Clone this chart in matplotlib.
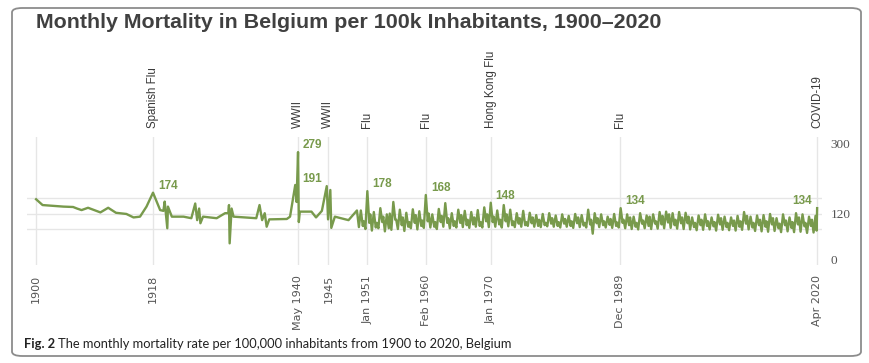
import numpy as np
import matplotlib
matplotlib.use("Agg")
import matplotlib.pyplot as plt
from matplotlib.patches import FancyBboxPatch
import matplotlib.transforms as mtransforms

# early part of the series (sparse points)
early_years = [1900, 1901, 1902.7, 1904.2, 1905.7, 1906.3, 1907, 1908, 1909.9, 1911.1,
               1912.3, 1913.9, 1915, 1916, 1917, 1918, 1919.1, 1919.6, 1919.8, 1920.2,
               1920.3, 1920.9, 1922.7, 1923.9, 1924.5, 1924.8, 1925.1, 1925.3, 1925.7, 1927.8,
               1929.1, 1929.6, 1929.7, 1929.8, 1930.1, 1930.4, 1933.9, 1934.4, 1934.8, 1935.2,
               1935.5, 1935.9, 1938.6, 1939.1, 1939.9, 1940.1, 1940.33, 1940.45, 1940.6, 1942.4,
               1943.1, 1944.0, 1944.75, 1944.95, 1945.3, 1945.45, 1946.0, 1948.1, 1949.4, 1949.7]
early_values = [157, 142, 140, 138, 137, 133, 129, 135, 123, 135,
                122, 119, 110, 112, 138, 174, 129, 127, 151, 82,
                138, 112, 112, 108, 146, 103, 133, 95, 112, 108,
                121, 121, 142, 43, 133, 112, 108, 142, 103, 121,
                86, 105, 106, 112, 194, 150, 279, 98, 125, 125,
                110, 127, 191, 105, 181, 83, 112, 103, 128, 85]

# 1950-2019: four points a year (winter peak, spring dip, summer bump, autumn low)
season_years = list(range(1950, 2020))
jan_peak = [128, 178, 124, 134, 118, 150, 130, 122, 131, 126,
            168, 118, 132, 147, 121, 130, 127, 124, 129, 136,
            148, 128, 142, 130, 121, 127, 122, 116, 119, 121,
            115, 118, 114, 119, 116, 130, 121, 118, 112, 119,
            134, 118, 112, 121, 115, 118, 124, 125, 121, 124,
            122, 110, 115, 118, 110, 117, 112, 110, 114, 124,
            112, 115, 116, 119, 108, 118, 110, 121, 118, 112]
spring_dip = [88, 96, 84, 98, 82, 104, 90, 86, 96, 88,
              100, 86, 98, 96, 88, 96, 90, 92, 88, 100,
              98, 92, 100, 90, 94, 90, 95, 88, 90, 94,
              88, 94, 88, 95, 89, 92, 95, 90, 91, 88,
              96, 90, 86, 94, 88, 94, 92, 97, 90, 95,
              95, 85, 90, 88, 87, 92, 85, 88, 86, 94,
              84, 90, 86, 92, 82, 90, 83, 92, 87, 88]
summer_bump = [100, 118, 96, 112, 120, 104, 110, 98, 116, 102,
               120, 98, 114, 108, 100, 116, 104, 110, 98, 118,
               112, 104, 118, 100, 108, 98, 110, 104, 96, 108,
               98, 106, 100, 110, 96, 104, 108, 100, 106, 97,
               104, 110, 96, 102, 112, 100, 114, 118, 104, 110,
               112, 96, 104, 100, 98, 108, 96, 102, 100, 114,
               96, 104, 100, 108, 94, 102, 98, 110, 96, 104]
autumn_low = [80, 76, 82, 74, 78, 80, 75, 82, 79, 83,
              84, 80, 86, 82, 84, 85, 83, 86, 84, 85,
              86, 84, 87, 85, 86, 88, 86, 85, 87, 86,
              84, 86, 83, 85, 84, 68, 85, 84, 83, 84,
              82, 80, 79, 82, 80, 81, 82, 83, 81, 80,
              79, 77, 78, 79, 76, 78, 77, 76, 78, 79,
              75, 74, 73, 75, 72, 74, 72, 73, 70, 71]
month_offsets = [0.0, 0.3, 0.45, 0.7]

# 2020 up to April
tail_years = [2020.0, 2020.17, 2020.25]
tail_values = [114, 76, 134]

# events
event_pos = [1900, 1918, 1940.33, 1945, 1951, 1960.08, 1970, 1989.92, 2020.25]
event_ticks = ["1900", "1918", "May 1940", "1945", "Jan 1951", "Feb 1960", "Jan 1970", "Dec 1989", "Apr 2020"]
event_names = ["", "Spanish Flu", "WWII", "WWII", "Flu", "Flu", "Hong Kong Flu", "Flu", "COVID-19"]

# peak labels
peak_x = [1918, 1940.33, 1944.75, 1951, 1960.08, 1970, 1989.92, 2020.25]
peak_y = [174, 279, 191, 178, 168, 148, 134, 134]
peak_txt = ["174", "279", "191", "178", "168", "148", "134", "134"]
peak_side = ["r", "r", "l", "r", "r", "r", "r", "l"]

# build the series
xs = list(early_years)
ys = list(early_values)
for i, yr in enumerate(season_years):
    vals = [jan_peak[i], spring_dip[i], summer_bump[i], autumn_low[i]]
    for off, v in zip(month_offsets, vals):
        xs.append(yr + off)
        ys.append(v)
xs += tail_years
ys += tail_values

green = "#789a4c"
grid_c = "#e6e6e6"

fig = plt.figure(figsize=(8.7, 3.63), dpi=100)
ax = fig.add_axes([27 / 870, 1 - 265 / 363, (822 - 27) / 870, (265 - 137) / 363])

# frame
frame = FancyBboxPatch((12 / 870, 1 - 356 / 363), (861 - 12) / 870, (356 - 8) / 363,
                       boxstyle="round,pad=0,rounding_size=0.012", transform=fig.transFigure,
                       facecolor="white", edgecolor="#8c8c8c", linewidth=1.3, zorder=-10)
fig.patches.append(frame)

for g in [80, 120, 160]:
    ax.axhline(g, color=grid_c, lw=1, zorder=1)
for p in event_pos:
    ax.axvline(p, color=grid_c, lw=1, zorder=1)

ax.plot(xs, ys, color=green, lw=1.7, zorder=3)

ax.set_xlim(1898.6, 2021.0)
ax.set_ylim(-13, 318)
for s in ax.spines.values():
    s.set_visible(False)

ax.set_xticks(event_pos, event_ticks, rotation=90, fontsize=8, color="#555555",
              family="DejaVu Sans")
ax.tick_params(axis="x", length=0, pad=7)
ax.yaxis.tick_right()
ax.set_yticks([0, 120, 300], ["0", "120", "300"])
ax.tick_params(axis="y", length=0, pad=6)
for lab in ax.get_yticklabels():
    lab.set_family("Liberation Serif")
    lab.set_fontsize(9.5)
    lab.set_color("#555555")

trans = mtransforms.blended_transform_factory(ax.transData, ax.transAxes)
for p, name in zip(event_pos, event_names):
    if name:
        ax.annotate(name, xy=(p, 1.0), xycoords=trans, xytext=(0, 9), textcoords="offset pixels",
                    rotation=90, ha="center", va="bottom", fontsize=8.3,
                    family="Liberation Sans", color="#3a3a3a")

for x, y, t, side in zip(peak_x, peak_y, peak_txt, peak_side):
    dx = 5 if side == "r" else -5
    ax.annotate(t, xy=(x, y), xytext=(dx, 7), textcoords="offset pixels",
                ha="left" if side == "r" else "right", va="center",
                fontsize=8.5, fontweight="bold", family="Liberation Sans", color=green)

fig.text(36 / 870, 1 - 23 / 363, "Monthly Mortality in Belgium per 100k Inhabitants, 1900\u20132020",
         fontsize=15.4, fontweight="bold", family="Liberation Sans", color="#404040",
         ha="left", va="center")

fig.text(24 / 870, 1 - 344 / 363, "Fig. 2", fontsize=9.25, fontweight="bold",
         family="Lato", color="#222222", ha="left", va="center")
fig.text(58 / 870, 1 - 344 / 363,
         "The monthly mortality rate per 100,000 inhabitants from 1900 to 2020, Belgium",
         fontsize=9.25, family="Lato", color="#222222", ha="left", va="center")

fig.savefig("out.png", dpi=100)
